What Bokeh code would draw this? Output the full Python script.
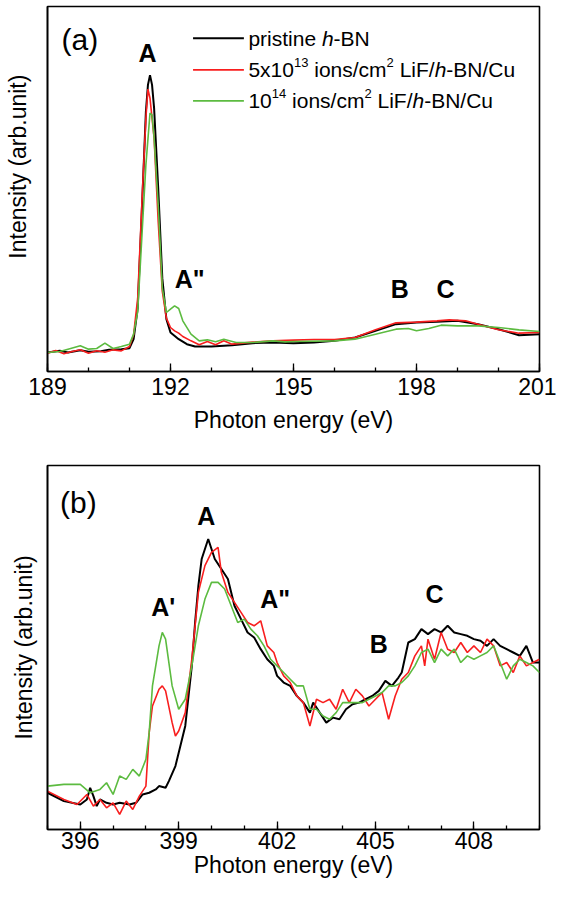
import math
from bokeh.plotting import figure
from bokeh.layouts import column
from bokeh.models import Label, Range1d, SingleIntervalTicker, FixedTicker
from bokeh.embed import file_html
from bokeh.resources import INLINE

# ---------------- Panel (a): B K-edge ----------------
a_black_x = [189.0,189.3,189.5,189.8,190.0,190.3,190.5,190.8,191.0,191.1,191.2,191.3,191.4,191.45,191.5,191.55,191.6,191.7,191.8,191.9,192.0,192.2,192.4,192.6,193.0,193.5,194.0,194.5,195.0,195.5,196.0,196.5,197.0,197.5,198.0,198.5,199.0,199.5,200.0,200.5,201.0]
a_black_y = [5.7,6.2,5.7,6.4,5.9,6.1,6.5,6.7,7.0,9.7,19,48,78,86,88.9,86,79,55,28,15.7,11.7,9.7,8.2,7.5,7.5,7.9,8.5,8.7,8.5,8.7,9.2,10.2,12.2,14.2,14.7,14.9,15.2,14.2,12.7,10.9,11.2]

a_red_x = [189.0,189.2,189.4,189.6,189.8,190.0,190.2,190.4,190.6,190.8,191.0,191.1,191.2,191.3,191.4,191.45,191.5,191.6,191.7,191.8,191.9,192.0,192.1,192.2,192.3,192.5,192.7,192.9,193.1,193.3,193.5,194.0,194.5,195.0,195.5,196.0,196.5,197.0,197.5,198.0,198.5,198.8,199.2,199.5,200.0,200.5,201.0]
a_red_y = [5.5,6.3,5.3,6.0,6.5,5.5,6.2,5.8,6.5,6.2,7.5,11,22,50,76,84.7,82,70,45,24,16,13.2,12.2,11.5,10.5,9.2,8.0,9.0,8.0,9.2,8.2,8.8,9.2,9.4,9.6,9.6,10.2,12.5,14.6,14.8,15.2,15.5,15.2,14.2,12.5,11.5,11.7]

a_green_x = [189.0,189.3,189.5,189.8,190.0,190.2,190.4,190.6,190.8,191.0,191.1,191.2,191.3,191.4,191.5,191.55,191.6,191.7,191.8,191.9,192.0,192.1,192.2,192.3,192.5,192.7,192.9,193.1,193.3,193.6,194.0,194.5,194.8,195.0,196.0,196.5,197.0,197.5,197.8,198.0,198.3,198.6,199.0,199.5,200.0,200.5,201.0]
a_green_y = [5.7,6.0,6.7,7.7,6.7,6.9,8.5,6.9,7.5,8.2,11.2,18,40,62,77.5,77,70,50,25,17.7,18.7,19.7,18.9,15.2,11.2,9.2,9.5,8.9,9.7,8.7,8.7,9.2,8.9,9.0,9.2,9.7,11.2,12.7,12.9,12.2,12.9,13.9,13.7,13.7,13.2,12.5,12.0]

a_peak_names = ["A", 'A"', "B", "C"]
a_peak_x = [191.44, 192.47, 197.59, 198.71]
a_peak_y = [95.7, 27.7, 24.7, 24.9]

# ---------------- Panel (b): N K-edge ----------------
b_black_x = [395.0,395.5,396.0,396.2,396.3,396.4,396.5,396.6,396.8,397.0,
             397.2,397.5,397.7,397.9,398.1,398.3,398.4,398.6,398.7,398.9,
             399.0,399.2,399.4,399.5,399.6,399.7,399.8,399.9,400.0,400.1,
             400.3,400.5,400.7,400.9,401.1,401.3,401.5,401.7,401.9,402.0,
             402.2,402.4,402.6,402.8,403.0,403.1,403.3,403.5,403.7,403.9,
             404.1,404.3,404.5,404.7,404.9,405.1,405.3,405.5,405.7,405.8,
             406.0,406.2,406.4,406.6,406.8,407.0,407.2,407.4,407.6,407.8,
             408.0,408.2,408.4,408.6,408.8,409.0,409.2,409.4,409.6,409.8,410.0]
b_black_y = [11.0,8.5,7.5,9.0,12.5,10.0,7.0,9.0,8.0,7.5,
             8.0,7.5,8.0,10.5,11.0,12.0,13.0,12.5,14.5,19.0,
             23.0,31.0,49.0,62.0,73.0,81.0,84.0,87.0,84.0,81.0,
             78.0,75.0,67.0,63.0,59.0,57.5,54.0,51.0,49.0,46.0,
             44.0,43.0,40.0,38.0,35.0,38.0,35.0,32.0,33.5,33.0,
             36.0,37.5,38.0,39.0,40.0,41.5,44.5,43.0,45.5,47.0,
             56.0,57.0,60.0,58.5,60.0,59.0,61.0,59.0,58.5,58.0,
             57.0,56.5,55.0,57.0,55.0,54.0,53.0,52.0,55.0,50.0,50.0]

b_red_x = [395.0,395.5,395.9,396.2,396.4,396.6,396.8,397.0,397.2,397.4,
           397.6,397.8,398.0,398.1,398.2,398.4,398.5,398.6,398.8,398.9,
           399.0,399.2,399.4,399.6,399.8,400.0,400.2,400.3,400.5,400.7,
           400.9,401.1,401.3,401.5,401.7,401.9,402.0,402.2,402.4,402.6,
           402.8,403.0,403.2,403.4,403.6,403.8,404.0,404.2,404.4,404.6,
           404.8,405.0,405.2,405.4,405.6,405.8,406.0,406.2,406.4,406.5,
           406.6,406.8,407.0,407.2,407.4,407.6,407.8,408.0,408.2,408.4,
           408.6,408.8,409.0,409.2,409.4,409.6,409.8,410.0]
b_red_y = [11.5,9.0,7.5,10.5,7.0,9.0,6.5,8.0,4.5,8.5,
           6.0,10.0,13.0,29.0,37.0,42.0,43.0,41.5,32.0,28.0,
           29.5,35.0,51.0,71.0,79.0,83.0,84.5,77.0,71.0,68.0,
           65.0,62.0,61.0,62.5,55.0,53.0,50.0,46.0,44.0,40.0,
           38.0,31.0,39.0,38.0,39.0,36.0,42.0,38.0,42.0,40.0,
           37.0,39.0,41.0,33.0,40.0,45.0,47.0,52.0,55.0,49.0,
           57.0,51.0,59.0,54.0,53.0,56.0,53.0,55.0,53.0,57.0,
           55.0,49.0,50.0,47.0,52.0,49.0,50.0,51.0]

b_green_x = [395.0,395.5,396.0,396.3,396.6,396.8,397.0,397.2,397.4,397.6,
             397.8,398.0,398.1,398.2,398.4,398.5,398.6,398.8,399.0,399.2,
             399.4,399.6,399.8,400.0,400.2,400.4,400.6,400.8,401.0,401.2,
             401.4,401.6,401.8,402.0,402.2,402.4,402.6,402.8,403.0,403.2,
             403.4,403.6,403.8,404.0,404.2,404.4,404.6,404.8,405.0,405.2,
             405.4,405.6,405.8,406.0,406.2,406.4,406.6,406.8,407.0,407.2,
             407.4,407.6,407.8,408.0,408.2,408.4,408.6,408.8,409.0,409.2,
             409.4,409.6,409.8,410.0]
b_green_y = [13.0,13.5,13.5,11.0,12.0,14.0,10.5,16.0,15.0,18.0,
             16.0,21.0,29.0,43.0,55.0,59.0,57.0,43.0,36.0,39.0,
             49.0,61.0,69.0,74.0,74.0,72.0,67.0,62.0,63.0,60.0,
             58.0,55.0,51.0,49.0,47.0,45.0,43.0,43.0,36.0,36.0,
             34.0,33.0,35.0,38.0,38.0,38.0,38.0,39.0,40.0,41.0,
             43.0,43.0,44.0,46.0,49.0,53.0,54.0,50.0,54.0,52.0,
             54.0,50.0,52.0,51.0,52.0,53.0,55.0,50.0,45.0,49.0,
             51.0,50.0,49.0,47.0]

b_peak_names = ["A", "A'", 'A"', "B", "C"]
b_peak_x = [399.84, 398.53, 401.94, 405.1, 406.8]
b_peak_y = [94.0, 66.5, 69.0, 55.5, 70.5]

x_title = "Photon energy (eV)"
y_title = "Intensity (arb.unit)"

# legend rows: (text, font style, is superscript)
legend_rows = [
    [("pristine", "normal", False), (" ", "normal", False), ("h", "italic", False), ("-BN", "normal", False)],
    [("5x10", "normal", False), ("13", "normal", True), (" ", "normal", False), ("ions/cm", "normal", False),
     ("2", "normal", True), (" ", "normal", False), ("LiF/", "normal", False), ("h", "italic", False),
     ("-BN/Cu", "normal", False)],
    [("10", "normal", False), ("14", "normal", True), (" ", "normal", False), ("ions/cm", "normal", False),
     ("2", "normal", True), (" ", "normal", False), ("LiF/", "normal", False), ("h", "italic", False),
     ("-BN/Cu", "normal", False)],
]

# ---------------- style ----------------
FONT = "Liberation Sans"
BLACK = "#000000"
RED = "#f81e1e"
GREEN = "#5cbb40"
COLORS = [BLACK, RED, GREEN]
WIDTHS = [2.0, 1.6, 1.6]
AX_FS = "23px"

# Arial / Liberation Sans advance widths (per 1000 em) for legend layout
ADV = {'p': 556, 'r': 333, 'i': 222, 's': 500, 't': 278, 'n': 556, 'e': 556, ' ': 278,
       'h': 556, '-': 333, 'B': 667, 'N': 722, '5': 556, 'x': 500, '1': 556, '0': 556,
       '3': 556, '4': 556, '2': 556, 'o': 556, '/': 278, 'c': 500, 'm': 833, 'L': 556,
       'F': 611, 'C': 722, 'u': 556}


def text_w(s, size):
    return sum(ADV.get(c, 556) for c in s) / 1000.0 * size


def make_fig(xr, yr, fh, top, bottom, tick_standoff, title_standoff, ytitle, ystandoff):
    p = figure(frame_width=492, frame_height=fh, x_range=Range1d(*xr), y_range=Range1d(*yr),
               output_backend="svg", toolbar_location=None,
               min_border_left=47, min_border_right=17, min_border_top=top, min_border_bottom=bottom)
    p.grid.visible = False
    p.outline_line_color = "black"
    p.outline_line_width = 1.6
    p.outline_line_alpha = 1.0
    p.background_fill_color = "white"
    p.border_fill_color = "white"

    xa = p.xaxis[0]
    xa.ticker = SingleIntervalTicker(interval=3, num_minor_ticks=3)
    xa.major_tick_in = 8
    xa.major_tick_out = 0
    xa.minor_tick_in = 4
    xa.minor_tick_out = 0
    xa.major_tick_line_color = "black"
    xa.minor_tick_line_color = "black"
    xa.major_tick_line_width = 1.3
    xa.minor_tick_line_width = 1.3
    xa.axis_line_width = 1.6
    xa.axis_line_color = "black"
    xa.major_label_text_font = FONT
    xa.major_label_text_font_size = AX_FS
    xa.major_label_text_color = "black"
    xa.major_label_standoff = tick_standoff
    xa.axis_label = x_title
    xa.axis_label_text_font = FONT
    xa.axis_label_text_font_size = AX_FS
    xa.axis_label_text_font_style = "normal"
    xa.axis_label_text_color = "black"
    xa.axis_label_standoff = title_standoff

    ya = p.yaxis[0]
    ya.ticker = FixedTicker(ticks=[])
    ya.major_tick_in = 0
    ya.major_tick_out = 0
    ya.minor_tick_in = 0
    ya.minor_tick_out = 0
    ya.major_label_standoff = 0
    ya.major_label_text_font_size = "0px"
    ya.axis_line_width = 1.6
    ya.axis_line_color = "black"
    ya.axis_label = ytitle
    ya.axis_label_text_font = FONT
    ya.axis_label_text_font_size = AX_FS
    ya.axis_label_text_font_style = "normal"
    ya.axis_label_text_color = "black"
    ya.axis_label_standoff = ystandoff
    return p


def add_peak_labels(p, names, xs, ys):
    for n, x, y in zip(names, xs, ys):
        p.add_layout(Label(x=x, y=y, text=n, text_font=FONT, text_font_size="25px",
                           text_font_style="bold", text_color="black",
                           text_align="center", text_baseline="middle"))


# ---------------- figure (a) ----------------
# leading no-break spaces move the rotated title upward, as in the original
pa = make_fig((189, 201), (0, 109.5), 365, 6, 67, 6, 9, "\u00a0" * 7 + y_title, 17)
for xs, ys, c, w in zip([a_black_x, a_red_x, a_green_x], [a_black_y, a_red_y, a_green_y], COLORS, WIDTHS):
    pa.line(xs, ys, line_color=c, line_width=w)
add_peak_labels(pa, a_peak_names, a_peak_x, a_peak_y)
pa.add_layout(Label(x=189.79, y=99.7, text="(a)", text_font=FONT, text_font_size="30px",
                    text_color="black", text_align="center", text_baseline="middle"))

# legend of (a)
leg_x0, leg_x1, leg_text_x = 192.55, 193.79, 193.90
leg_rows_y = [100.0, 90.5, 81.2]
pa.segment(x0=[leg_x0] * 3, x1=[leg_x1] * 3, y0=leg_rows_y, y1=leg_rows_y,
           line_color=COLORS, line_width=WIDTHS)
FS, SS = 21, 13
for row, yy in zip(legend_rows, leg_rows_y):
    off = 0.0
    for txt, style, sup in row:
        size = SS if sup else FS
        if txt.strip():
            pa.add_layout(Label(x=leg_text_x, y=yy, x_offset=off, y_offset=(7 if sup else 0),
                                text=txt, text_font=FONT, text_font_size=f"{size}px",
                                text_font_style=style, text_color="black",
                                text_align="left", text_baseline="middle"))
        off += text_w(txt, size)

# ---------------- figure (b) ----------------
pb = make_fig((395, 410), (0, 109), 364, 27, 54, 2, 0, y_title, 11)
for xs, ys, c, w in zip([b_black_x, b_red_x, b_green_x], [b_black_y, b_red_y, b_green_y], COLORS, WIDTHS):
    pb.line(xs, ys, line_color=c, line_width=w)
add_peak_labels(pb, b_peak_names, b_peak_x, b_peak_y)
pb.add_layout(Label(x=395.94, y=97.9, text="(b)", text_font=FONT, text_font_size="30px",
                    text_color="black", text_align="center", text_baseline="middle"))

layout = column(pa, pb, spacing=0)
open("out.html", "w").write(file_html(layout, INLINE))
